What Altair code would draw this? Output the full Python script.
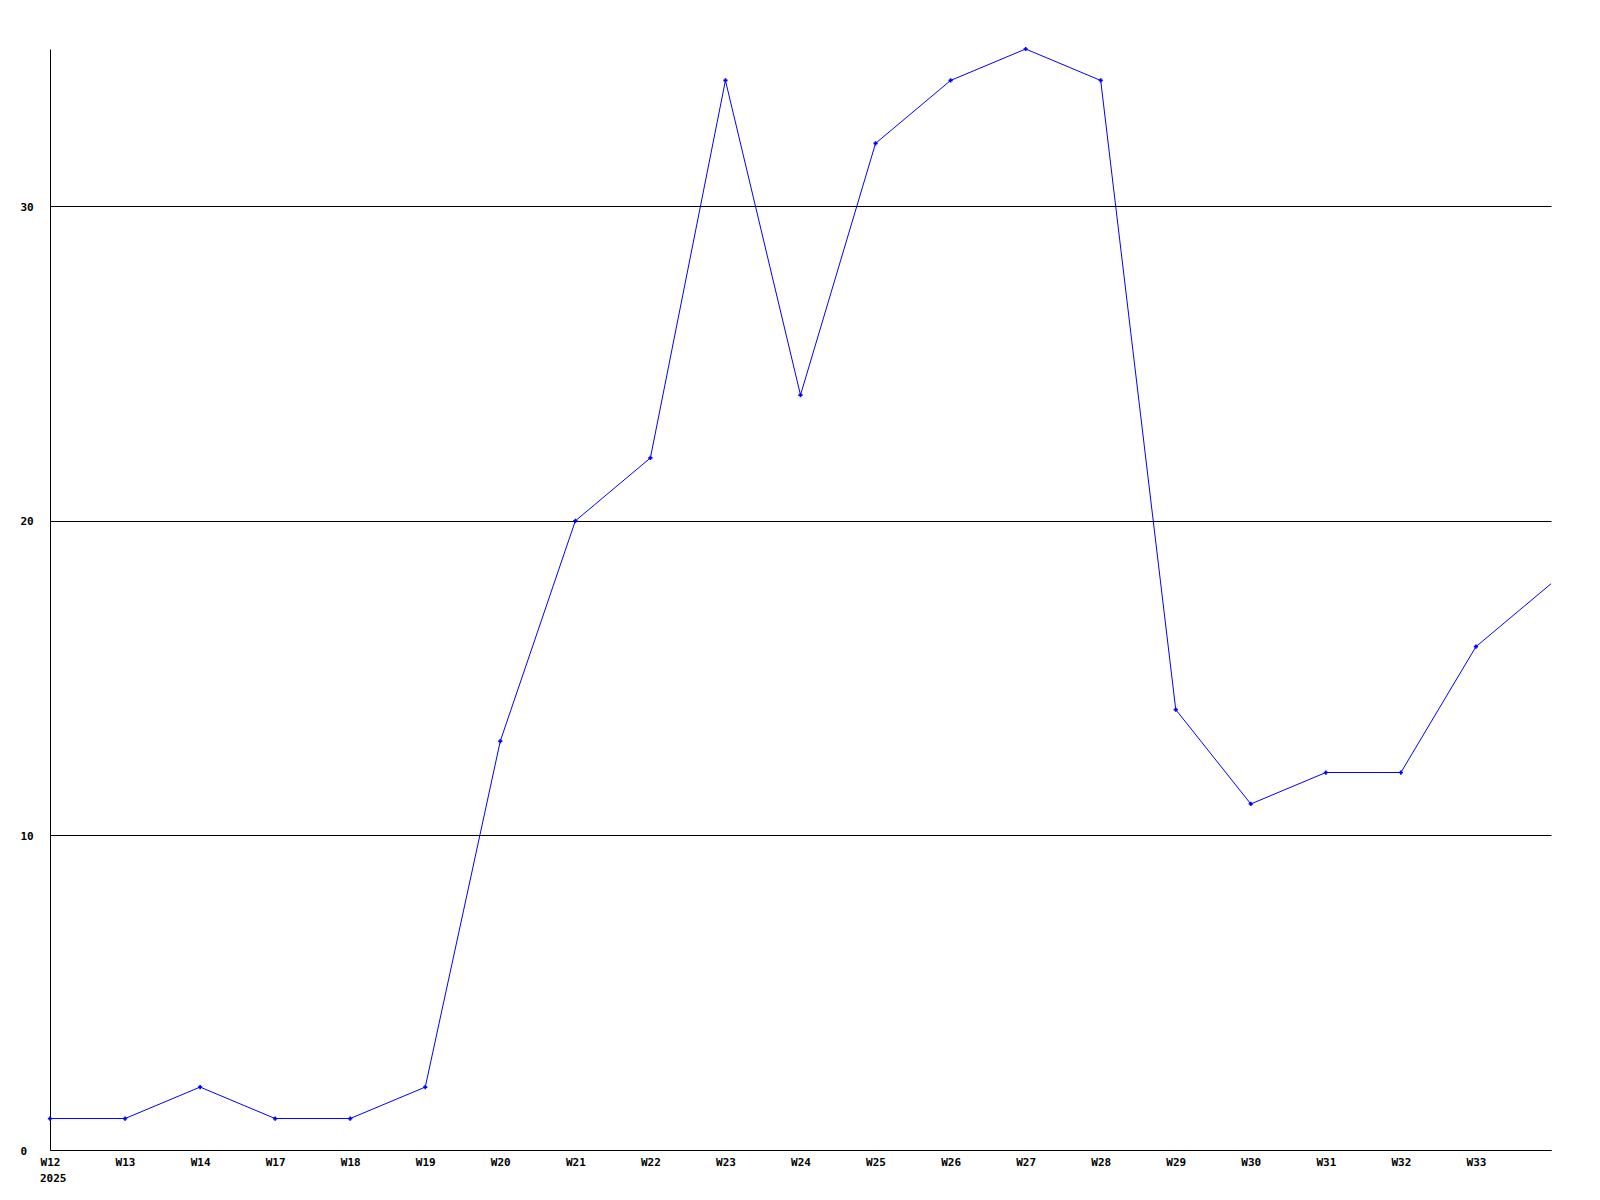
import altair as alt
import pandas as pd

weeks = ["W12", "W13", "W14", "W17", "W18", "W19", "W20", "W21", "W22", "W23",
         "W24", "W25", "W26", "W27", "W28", "W29", "W30", "W31", "W32", "W33", "W34"]
values = [1, 1, 2, 1, 1, 2, 13, 20, 22, 34, 24, 32, 34, 35, 34, 14, 11, 12, 12, 16, 18]
year_label = "2025"

df = pd.DataFrame({"week": weeks, "value": values})
year_df = pd.DataFrame({"week": [weeks[0]], "text": [year_label]})

font = "DejaVu Sans Mono"
fs = 11

x = alt.X("week:O", sort=weeks, title=None,
          scale=alt.Scale(type="point", padding=0),
          axis=alt.Axis(labelAngle=0, labelFont=font, labelFontWeight="bold", labelFontSize=fs,
                        labelColor="black", ticks=False, domainColor="black", labelPadding=6,
                        labelExpr="datum.value == 'W34' ? '' : datum.label"))
y = alt.Y("value:Q", title=None,
          scale=alt.Scale(domain=[0, 35], nice=False),
          axis=alt.Axis(values=[0, 10, 20, 30], grid=True, gridColor="black", gridOpacity=1,
                        ticks=False, domainColor="black", labelFont=font, labelFontWeight="bold",
                        labelFontSize=fs, labelColor="black", labelAlign="left", labelPadding=30,
                        labelBaseline="middle", labelOffset=1))

line = alt.Chart(df).mark_line(color="#0000ff", strokeWidth=1).encode(x=x, y=y)
pts = alt.Chart(df).transform_filter("datum.week != 'W34'").mark_point(
    shape="cross", filled=True, color="#0000ff", size=18, opacity=1).encode(x=x, y=y)
year = alt.Chart(year_df).mark_text(
    align="left", baseline="top", font=font, fontWeight="bold", fontSize=fs,
    color="black", dx=-10, clip=False).encode(
    x=alt.X("week:O", sort=weeks), y=alt.value(1124), text="text:N")

chart = (line + pts + year).properties(
    width=1501, height=1101,
    autosize=alt.AutoSizeParams(type="none"),
    padding={"left": 42, "top": 41, "right": 10, "bottom": 40},
).configure_view(stroke=None).configure_axis(domainWidth=1, gridWidth=1)

chart.save("out.html", embed_options={"renderer": "svg", "actions": False})
